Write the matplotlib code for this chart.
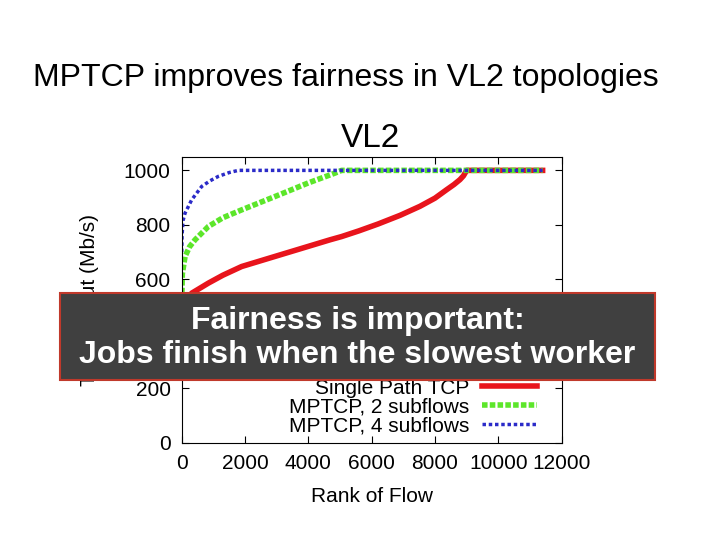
import matplotlib
matplotlib.use("Agg")
from matplotlib import pyplot as plt
from matplotlib.patches import Rectangle

plt.rcParams["font.family"] = ["Liberation Sans", "DejaVu Sans"]

# values
red_x = [0, 100, 315, 842, 1300, 1894, 2946, 4000, 4683, 5052, 5600, 6200, 6900, 7525,
         8000, 8368, 8600, 8789, 8900, 9000, 10000, 11400]
red_y = [490, 515, 549, 586, 615, 647, 684, 721, 745, 757, 778, 803, 835, 868,
         898, 929, 948, 966, 980, 1000, 1000, 1000]
green_x = [0, 20, 105, 250, 420, 842, 1300, 1894, 2946, 4000, 4841, 5050, 11400]
green_y = [520, 620, 684, 720, 745, 794, 826, 855, 904, 954, 990, 1000, 1000]
blue_x = [0, 10, 40, 105, 315, 631, 900, 1157, 1500, 1788, 11400]
blue_y = [700, 760, 815, 843, 892, 941, 962, 978, 992, 1000, 1000]
labels = ["Single Path TCP", "MPTCP, 2 subflows", "MPTCP, 4 subflows"]
xticks = [0, 2000, 4000, 6000, 8000, 10000, 12000]
yticks = [0, 200, 400, 600, 800, 1000]

fig = plt.figure(figsize=(7.2, 5.4), dpi=100)
ax = fig.add_axes([0.2524, 0.1802, 0.5276, 0.5285])

ax.plot(red_x, red_y, color="#e8141c", lw=4, label=labels[0])
ax.plot(green_x, green_y, color="#5ce62a", lw=4, ls=(0, (1, 0.4)), label=labels[1])
ax.plot(blue_x, blue_y, color="#2b2bc8", lw=2.5, ls=(0, (1, 0.8)), label=labels[2])

ax.set_xlim(0, 12000)
ax.set_ylim(0, 1048)
ax.set_xticks(xticks)
ax.set_yticks(yticks)
ax.tick_params(direction="in", top=True, right=True, labelsize=15, length=5, pad=8)
ax.set_xlabel("Rank of Flow", fontsize=15, labelpad=10)
ax.set_ylabel("Throughput (Mb/s)", fontsize=15, labelpad=18)
ax.legend(loc="lower right", frameon=False, markerfirst=False, fontsize=15,
          handlelength=2.65, handletextpad=0.6, labelspacing=0.0,
          borderaxespad=0, borderpad=0, bbox_to_anchor=(0.935, 0.025))

fig.text(0.4806, 0.855, "MPTCP improves fairness in VL2 topologies",
         ha="center", va="center", fontsize=23)
fig.text(0.5146, 0.744, "VL2", ha="center", va="center", fontsize=24)

box = Rectangle((0.0833, 0.2963), 0.8264, 0.1611, transform=fig.transFigure,
                facecolor="#404040", edgecolor="#c0392b", lw=1.5, zorder=10)
fig.patches.append(box)
fig.text(0.4965, 0.4056, "Fairness is important:", ha="center", va="center",
         color="white", fontsize=23, fontweight="bold", zorder=11)
fig.text(0.4965, 0.3426, "Jobs finish when the slowest worker", ha="center",
         va="center", color="white", fontsize=23, fontweight="bold", zorder=11)

fig.savefig("out.png", dpi=100)
